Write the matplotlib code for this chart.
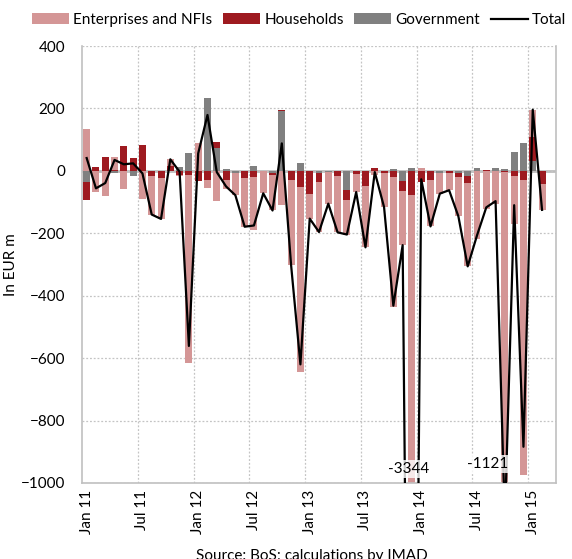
import numpy as np
import matplotlib
matplotlib.use('Agg')
import matplotlib.pyplot as plt

plt.rcParams['font.family'] = ['Lato', 'DejaVu Sans']

# monthly flows, Jan 2011 - Feb 2015 (EUR m)
months = 50
tick_labels = ['Jan 11', 'Jul 11', 'Jan 12', 'Jul 12', 'Jan 13', 'Jul 13',
               'Jan 14', 'Jul 14', 'Jan 15']

enterprises = [133, -68, -82, 40, -59, 0, -90, -124, -131, 22,
               -2, -603, 88, -24, -95, -27, -72, -156, -172, -72,
               -113, -108, -275, -593, -78, -161, -102, -180, -110, -59,
               -196, -14, -110, -418, -173, -3266, 10, -148, -65, -56,
               -125, -268, -217, -121, -106, -1122, -152, -946, 86, -84]
households = [-57, 12, 43, 3, 80, 41, 82, -16, -23, 15,
              -14, -14, -32, -30, 19, -30, 0, -23, -19, 0,
              -6, 3, -28, -52, -75, -29, 0, -17, -32, -9,
              -49, 10, -6, -19, -33, -78, -37, -30, 0, -6,
              -13, -23, 0, 4, 0, -4, -17, -28, 78, -41]
government = [-35, 0, 0, -8, 0, -17, 0, 0, 0, 0,
              13, 56, 0, 233, 72, 7, -6, 0, 16, 0,
              -8, 193, 0, 25, 0, -6, -3, 0, -62, 0,
              0, 0, 0, 5, -32, 10, 0, 0, -8, 0,
              -8, -15, 10, 0, 9, 5, 59, 90, 32, 0]
total = [41, -56, -39, 35, 21, 24, -8, -140, -154, 37,
         -3, -561, 56, 179, -4, -50, -78, -179, -175, -72,
         -127, 88, -303, -620, -153, -196, -105, -197, -204, -68,
         -245, -4, -116, -432, -238, -3344, -27, -178, -73, -62,
         -146, -306, -207, -117, -97, -1121, -110, -884, 196, -125]

c_ent = '#d49696'
c_hh = '#9e1a20'
c_gov = '#808080'

fig = plt.figure(figsize=(5.72, 5.59), dpi=100)
ax = fig.add_axes([0.1434, 0.136, 0.8286, 0.7817])

x = np.arange(months)
pos = np.zeros(months)
neg = np.zeros(months)
for vals, col, lab in [(government, c_gov, 'Government'),
                       (households, c_hh, 'Households'),
                       (enterprises, c_ent, 'Enterprises and NFIs')]:
    v = np.array(vals, dtype=float)
    bottom = np.where(v >= 0, pos, neg)
    ax.bar(x, v, 0.75, bottom=bottom, color=col, label=lab, zorder=2)
    pos = pos + np.clip(v, 0, None)
    neg = neg + np.clip(v, None, 0)

ax.plot(x, total, color='black', lw=1.6, label='Total', zorder=3)

ax.axhline(0, color='#bdbdbd', lw=2, zorder=1.5)

ax.set_ylim(-1000, 400)
ax.set_xlim(-0.5, 50.5)
ax.set_yticks(np.arange(-1000, 401, 200))
ax.set_xticks(np.arange(0, months, 6))
ax.set_xticklabels(tick_labels, rotation=90)
ax.set_xticks(np.arange(5.5, months, 6), minor=True)
ax.tick_params(axis='both', which='both', length=0, labelsize=11)
ax.tick_params(axis='y', pad=12)
ax.tick_params(axis='x', pad=5)
ax.grid(axis='y', color='#c4c4c4', ls=(0, (1.5, 1.5)), lw=0.9, zorder=0)
ax.grid(axis='x', which='minor', color='#c4c4c4', ls=(0, (1.5, 1.5)), lw=0.9, zorder=0)
for s in ax.spines.values():
    s.set_color('#c0c0c0')
    s.set_linewidth(1.2)
ax.spines['top'].set_visible(False)
ax.set_ylabel('In EUR m', fontsize=11)
ax.yaxis.set_label_coords(-0.135, 0.5)

# labels for the cut-off values
ax.text(34.6, -955, '-3344', ha='center', va='center', fontsize=11,
        bbox=dict(facecolor='white', edgecolor='none', alpha=0.8, pad=1.5), zorder=4)
ax.text(43.1, -940, '-1121', ha='center', va='center', fontsize=11,
        bbox=dict(facecolor='white', edgecolor='none', alpha=0.8, pad=1.5), zorder=4)

h, l = ax.get_legend_handles_labels()
order = [3, 2, 1, 0]
fig.legend([h[i] for i in order], [l[i] for i in order], loc='center',
           bbox_to_anchor=(0.523, 0.964), ncol=4, frameon=False, fontsize=11,
           handlelength=2.4, handleheight=0.75, handletextpad=0.3, columnspacing=0.7)

fig.text(0.545, 0.005, 'Source: BoS; calculations by IMAD', ha='center', va='center',
         fontsize=11)

fig.savefig('out.png', dpi=100)
